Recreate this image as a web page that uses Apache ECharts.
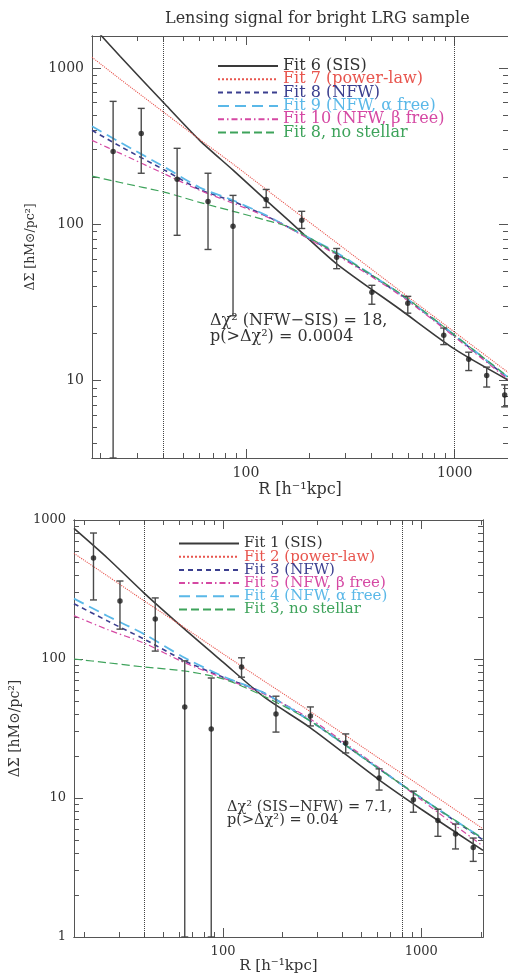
<!DOCTYPE html>
<html>
<head>
<meta charset="utf-8">
<script src="https://cdn.jsdelivr.net/npm/echarts@6/dist/echarts.min.js"></script>
<style>
html, body { margin: 0; padding: 0; background: #fff; }
#chart { width: 508px; height: 980px; }
</style>
</head>
<body>
<div id="chart"></div>
<script>
var FONT = 'DejaVu Serif';

// ---- top panel (bright LRG sample), radii in h^-1 kpc
var topR      = [18.3, 25, 41, 60, 87, 125, 160, 270, 550, 1000, 1800];
var topSIS    = [1870, 1184, 585, 344, 221, 142, 106, 56.3, 28.4, 15.9, 10.1];
var topPow    = [1170, 846, 512, 349, 242, 167, 130, 76.7, 37.3, 20.4, 11.3];
var topNFW    = [399, 315, 221, 167, 140, 113, 95.7, 65, 35.5, 19.3, 10.4];
var topNFWa   = [423, 334, 231, 172, 142, 114, 95.7, 66.2, 35.7, 19.5, 10.5];
var topNFWb   = [344, 284, 209, 165, 136, 112, 95, 64, 35, 19.0, 10.2];
var topNoStar = [203, 185, 160, 138, 121, 106, 96, 65.5, 36, 19.5, 10.6];

var topPtR  = [23.1, 31.5, 46.8, 65.8, 86.7, 125, 185, 272, 401, 596, 886, 1167, 1423, 1735];
var topPtV  = [292, 381, 194, 140, 97, 144, 106, 61.6, 36.8, 31.3, 19.5, 13.7, 10.8, 8.1];
var topPtLo = [3.2, 212, 85, 69, 26, 128, 94, 52, 30.8, 27, 17, 11.6, 9.1, 6.8];
var topPtHi = [611, 551, 306, 212, 153, 167, 121, 70, 40.7, 34.6, 21.7, 15.2, 12.2, 9.4];

var topGuides = [40, 1000];

// ---- bottom panel
var botR      = [17.7, 26.1, 40, 64, 100, 161, 276, 613, 1000, 2050];
var botSIS    = [870, 533, 298, 164, 95, 53.3, 32, 13.5, 8.3, 4.2];
var botPow    = [575, 396, 262, 168, 109, 69.4, 41.8, 19.3, 12.1, 6.0];
var botNFW    = [250, 188, 139, 97, 74, 57, 35.8, 16.2, 10.0, 5.0];
var botNFWb   = [205, 163, 130, 94, 73, 56, 37, 16.5, 9.7, 4.5];
var botNFWa   = [272, 204, 151, 102, 75, 57, 35.8, 16.2, 10.0, 5.1];
var botNoStar = [100, 94, 87.6, 82, 72, 54, 35.8, 16.2, 10, 5.1];

var botPtR  = [22.2, 30.2, 45.5, 64.1, 87.2, 124, 185, 276, 416, 613, 913, 1214, 1490, 1830];
var botPtV  = [533, 261, 194, 45.2, 31.4, 87.6, 40.2, 38.9, 24.9, 13.9, 9.7, 6.9, 5.5, 4.4];
var botPtLo = [266, 164, 114, 1, 1, 74, 29.8, 33.0, 21.1, 11.4, 7.9, 5.3, 4.3, 3.5];
var botPtHi = [806, 364, 275, 97, 73, 102, 54, 45.2, 28.9, 16.2, 11.2, 8.3, 6.5, 5.15];

var botGuides = [40, 800];

// tick values
var topXMajor = [100, 1000];
var topXMinor = [20, 30, 40, 50, 60, 70, 80, 90, 200, 300, 400, 500, 600, 700, 800, 900];
var topYMajor = [10, 100, 1000];
var topYMinor = [4, 5, 6, 7, 8, 9, 20, 30, 40, 50, 60, 70, 80, 90, 200, 300, 400, 500, 600, 700, 800, 900];
var botXMajor = [100, 1000];
var botXMinor = [20, 30, 40, 50, 60, 70, 80, 90, 200, 300, 400, 500, 600, 700, 800, 900, 2000];
var botYMajor = [1, 10, 100, 1000];
var botYMinor = [2, 3, 4, 5, 6, 7, 8, 9, 20, 30, 40, 50, 60, 70, 80, 90, 200, 300, 400, 500, 600, 700, 800, 900];

var C = {
  sis: '#3a3a3a', pow: '#e8554e', nfw: '#3b3f8f',
  nfwa: '#5ab8e8', nfwb: '#d548a3', nostar: '#3ea35b'
};

function pairs(xs, ys) {
  return xs.map(function (x, i) { return [x, ys[i]]; });
}

function tickAxis(grid, min, max, pos, vals, len, labelVals, fontSize) {
  var ax = {
    type: 'log', gridIndex: grid, min: min, max: max, position: pos,
    axisLine: { show: true, onZero: false, lineStyle: { color: '#555', width: 1 } },
    axisTick: { show: true, inside: true, length: len, customValues: vals,
                lineStyle: { color: '#555', width: 1 } },
    axisLabel: { show: false },
    splitLine: { show: false }
  };
  if (labelVals) {
    ax.axisLabel = {
      show: true, customValues: labelVals, margin: 8, color: '#333',
      fontFamily: FONT, fontSize: fontSize,
      formatter: function (v) { return '' + Math.round(v); }
    };
  }
  return ax;
}

function curve(name, xs, ys, xi, style) {
  return {
    type: 'line', name: name, xAxisIndex: xi, yAxisIndex: xi,
    data: pairs(xs, ys), symbol: 'none', showSymbol: false,
    smooth: 0.25, clip: true, z: 3,
    lineStyle: style, itemStyle: { color: style.color }
  };
}

function errBar(params, api) {
  var hi = api.coord([api.value(0), api.value(2)]);
  var lo = api.coord([api.value(0), api.value(1)]);
  var c = 3.5;
  var st = { stroke: '#4a4a4a', lineWidth: 1.4 };
  return {
    type: 'group',
    children: [
      { type: 'line', shape: { x1: hi[0], y1: hi[1], x2: lo[0], y2: lo[1] }, style: st },
      { type: 'line', shape: { x1: hi[0] - c, y1: hi[1], x2: hi[0] + c, y2: hi[1] }, style: st },
      { type: 'line', shape: { x1: lo[0] - c, y1: lo[1], x2: lo[0] + c, y2: lo[1] }, style: st }
    ]
  };
}

function points(xi, rs, vs, lo, hi, guides) {
  return [{
    type: 'custom', xAxisIndex: xi, yAxisIndex: xi, silent: true, z: 5,
    data: rs.map(function (r, i) { return [r, lo[i], hi[i]]; }),
    encode: { x: 0, y: [1, 2] },
    renderItem: errBar
  }, {
    type: 'scatter', xAxisIndex: xi, yAxisIndex: xi, silent: true, z: 6,
    data: pairs(rs, vs), symbol: 'circle', symbolSize: 5.5,
    itemStyle: { color: '#1e1e1e' },
    markLine: {
      silent: true, symbol: ['none', 'none'], label: { show: false },
      lineStyle: { type: 'dotted', color: '#444', width: 1 },
      data: guides.map(function (g) { return { xAxis: g }; })
    }
  }];
}

var xAxes = [
  // top panel: 0..3
  tickAxis(0, 18.3, 1800, 'bottom', topXMajor, 9, topXMajor, 14),
  tickAxis(0, 18.3, 1800, 'bottom', topXMinor, 5),
  tickAxis(0, 18.3, 1800, 'top', topXMajor, 9),
  tickAxis(0, 18.3, 1800, 'top', topXMinor, 5),
  // bottom panel: 4..7
  tickAxis(1, 17.7, 2050, 'bottom', botXMajor, 9, botXMajor, 13),
  tickAxis(1, 17.7, 2050, 'bottom', botXMinor, 5),
  tickAxis(1, 17.7, 2050, 'top', botXMajor, 9),
  tickAxis(1, 17.7, 2050, 'top', botXMinor, 5)
];
var yAxes = [
  tickAxis(0, 3.2, 1600, 'left', topYMajor, 9, topYMajor, 14),
  tickAxis(0, 3.2, 1600, 'left', topYMinor, 5),
  tickAxis(0, 3.2, 1600, 'right', topYMajor, 9),
  tickAxis(0, 3.2, 1600, 'right', topYMinor, 5),
  tickAxis(1, 1, 1000, 'left', botYMajor, 9, botYMajor, 13),
  tickAxis(1, 1, 1000, 'left', botYMinor, 5),
  tickAxis(1, 1, 1000, 'right', botYMajor, 9),
  tickAxis(1, 1, 1000, 'right', botYMinor, 5)
];

var nameStyle = { fontFamily: FONT, color: '#333' };
xAxes[0].name = 'R [h⁻¹kpc]';
xAxes[0].nameLocation = 'middle';
xAxes[0].nameGap = 24;
xAxes[0].nameTextStyle = Object.assign({ fontSize: 16 }, nameStyle);
xAxes[4].name = 'R [h⁻¹kpc]';
xAxes[4].nameLocation = 'middle';
xAxes[4].nameGap = 22;
xAxes[4].nameTextStyle = Object.assign({ fontSize: 15 }, nameStyle);
yAxes[0].name = 'ΔΣ [hM⊙/pc²]';
yAxes[0].nameLocation = 'middle';
yAxes[0].nameGap = 36;
yAxes[0].nameTextStyle = Object.assign({ fontSize: 12.5 }, nameStyle);
yAxes[4].name = 'ΔΣ [hM⊙/pc²]';
yAxes[4].nameLocation = 'middle';
yAxes[4].nameGap = 34;
yAxes[4].nameTextStyle = Object.assign({ fontSize: 14 }, nameStyle);

var sSIS = { color: C.sis, width: 1.6, type: 'solid' };
var sPow = { color: C.pow, width: 1.1, type: 'dotted' };
var sNFW = { color: C.nfw, width: 1.6, type: [5, 4] };
var sNFWa = { color: C.nfwa, width: 1.8, type: [11, 6] };
var sNFWb = { color: C.nfwb, width: 1.2, type: [6, 3, 1.5, 3] };
var sNo = { color: C.nostar, width: 1.2, type: [8, 4] };

var series = [
  curve('Fit 6 (SIS)', topR, topSIS, 0, sSIS),
  curve('Fit 7 (power-law)', topR, topPow, 0, sPow),
  curve('Fit 8 (NFW)', topR, topNFW, 0, sNFW),
  curve('Fit 9 (NFW, α free)', topR, topNFWa, 0, sNFWa),
  curve('Fit 10 (NFW, β free)', topR, topNFWb, 0, sNFWb),
  curve('Fit 8, no stellar', topR, topNoStar, 0, sNo),
  curve('Fit 1 (SIS)', botR, botSIS, 4, sSIS),
  curve('Fit 2 (power-law)', botR, botPow, 4, sPow),
  curve('Fit 3 (NFW)', botR, botNFW, 4, sNFW),
  curve('Fit 5 (NFW, β free)', botR, botNFWb, 4, sNFWb),
  curve('Fit 4 (NFW, α free)', botR, botNFWa, 4, sNFWa),
  curve('Fit 3, no stellar', botR, botNoStar, 4, sNo)
].concat(points(0, topPtR, topPtV, topPtLo, topPtHi, topGuides))
 .concat(points(4, botPtR, botPtV, botPtLo, botPtHi, botGuides));

function legendItems(names, colors) {
  return names.map(function (n, i) { return { name: n, textStyle: { color: colors[i] } }; });
}

var legendBase = {
  orient: 'vertical', itemWidth: 60, itemHeight: 12, itemTextGap: 0,
  selectedMode: false, padding: 0,
  itemStyle: { opacity: 0 }
};

var option = {
  animation: false,
  backgroundColor: '#fff',
  title: {
    text: 'Lensing signal for bright LRG sample', left: 160, top: 6,
    textStyle: { fontFamily: FONT, fontSize: 16, fontWeight: 'normal', color: '#333' }
  },
  grid: [
    { left: 92, top: 36, width: 416, height: 422 },
    { left: 66, top: 520, width: 417, height: 417 }
  ],
  legend: [
    Object.assign({}, legendBase, {
      left: 217, top: 58, itemGap: -2.7,
      textStyle: { fontFamily: FONT, fontSize: 16, lineHeight: 12 },
      data: legendItems(
        ['Fit 6 (SIS)', 'Fit 7 (power-law)', 'Fit 8 (NFW)', 'Fit 9 (NFW, α free)', 'Fit 10 (NFW, β free)', 'Fit 8, no stellar'],
        ['#333', C.pow, C.nfw, C.nfwa, C.nfwb, C.nostar])
    }),
    Object.assign({}, legendBase, {
      left: 178, top: 536, itemGap: -1.8,
      textStyle: { fontFamily: FONT, fontSize: 15, lineHeight: 12 },
      data: legendItems(
        ['Fit 1 (SIS)', 'Fit 2 (power-law)', 'Fit 3 (NFW)', 'Fit 5 (NFW, β free)', 'Fit 4 (NFW, α free)', 'Fit 3, no stellar'],
        ['#333', C.pow, C.nfw, C.nfwb, C.nfwa, C.nostar])
    })
  ],
  xAxis: xAxes,
  yAxis: yAxes,
  graphic: [
    {
      type: 'text', left: 210, top: 313, silent: true,
      style: { text: 'Δχ² (NFW−SIS) = 18,\np(>Δχ²) = 0.0004', font: '16px "DejaVu Serif"',
               fill: '#333', lineHeight: 16 }
    },
    {
      type: 'text', left: 227, top: 800, silent: true,
      style: { text: 'Δχ² (SIS−NFW) = 7.1,\np(>Δχ²) = 0.04', font: '14.5px "DejaVu Serif"',
               fill: '#333', lineHeight: 13 }
    }
  ],
  series: series
};

var chart = echarts.init(document.getElementById('chart'));
chart.setOption(option);
</script>
</body>
</html>
